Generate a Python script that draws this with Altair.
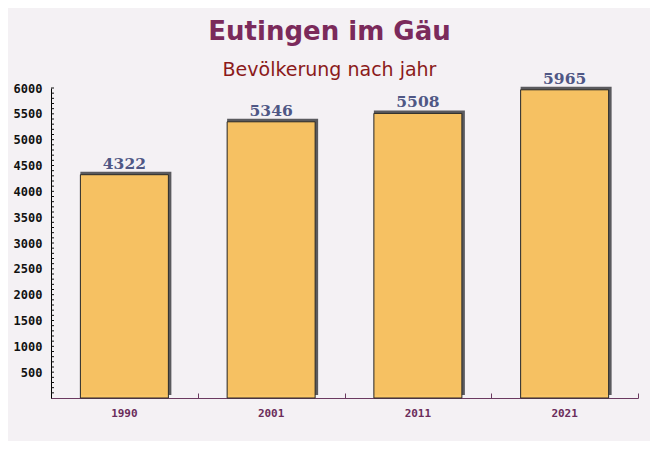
import altair as alt
import pandas as pd

years = ["1990", "2001", "2011", "2021"]
population = [4322, 5346, 5508, 5965]
y_label_values = [500, 1000, 1500, 2000, 2500, 3000, 3500, 4000, 4500, 5000, 5500, 6000]
y_minor_values = list(range(100, 6001, 100))

df = pd.DataFrame({"year": years, "population": population})
ticks_df = pd.DataFrame({"tick": y_minor_values})

W, H = 587, 310

x_scale = alt.Scale(paddingInner=0, paddingOuter=0)
y_scale = alt.Scale(domain=[0, 6000], nice=False)

base = alt.Chart(df)

shadow = base.mark_bar(color="#5a5a5e", width=91, xOffset=1.5, yOffset=-3).encode(
    x=alt.X("year:N", scale=x_scale, axis=None),
    y=alt.Y("population:Q", scale=y_scale, axis=None),
)

bars = base.mark_bar(
    fill="#fbc462", fillOpacity=0.97, stroke="#2a2a2a", strokeWidth=1, width=88
).encode(
    x=alt.X(
        "year:N",
        scale=x_scale,
        title=None,
        axis=alt.Axis(
            orient="bottom",
            labelAngle=0,
            ticks=False,
            domainColor="#6b3a60",
            domainWidth=1,
            labelFont="DejaVu Sans Mono",
            labelFontWeight="bold",
            labelFontSize=11,
            labelColor="#6b2d5b",
            labelPadding=9,
            grid=False,
        ),
    ),
    y=alt.Y(
        "population:Q",
        scale=y_scale,
        title=None,
        axis=alt.Axis(
            orient="left",
            values=y_label_values,
            format="d",
            ticks=False,
            domainColor="#000000",
            labelFont="DejaVu Sans Mono",
            labelFontWeight="bold",
            labelFontSize=12,
            labelColor="#111111",
            labelPadding=9,
            grid=False,
        ),
    ),
)

labels = base.mark_text(
    dy=-6,
    baseline="alphabetic",
    font="DejaVu Serif",
    fontWeight="bold",
    fontSize=15.5,
    color="#4f5785",
).encode(
    x=alt.X(
        "year:N",
        scale=x_scale,
        title=None,
        axis=alt.Axis(
            orient="top",
            offset=-H,
            labels=False,
            domain=False,
            ticks=True,
            tickBand="extent",
            tickSize=5,
            tickColor="#6b3a60",
            grid=False,
        ),
    ),
    y=alt.Y("population:Q", scale=y_scale, axis=None),
    text="population:Q",
)

minor_ticks = alt.Chart(ticks_df).mark_rule(color="#111111", strokeWidth=1).encode(
    y=alt.Y("tick:Q", scale=y_scale, axis=None),
    x=alt.value(0),
    x2=alt.value(3),
)

chart = (
    alt.layer(shadow, bars, labels, minor_ticks)
    .resolve_axis(x="independent", y="independent")
    .properties(
        width=W,
        height=H,
        autosize=alt.AutoSizeParams(type="none"),
        padding={"left": 43, "top": 80, "right": 12, "bottom": 43},
        background="#f4f1f4",
        title=alt.TitleParams(
            text="Eutingen im Gäu",
            subtitle="Bevölkerung nach jahr",
            font="DejaVu Sans",
            fontSize=26,
            fontWeight="bold",
            color="#7b2a5b",
            subtitleFont="DejaVu Sans",
            subtitleFontSize=19,
            subtitleColor="#8b1a1a",
            subtitlePadding=16,
            anchor="middle",
            frame="group",
            dx=-15,
            offset=-8,
        ),
    )
    .configure_view(stroke=None)
)

chart.save("out.html", embed_options={"renderer": "svg", "actions": False})
